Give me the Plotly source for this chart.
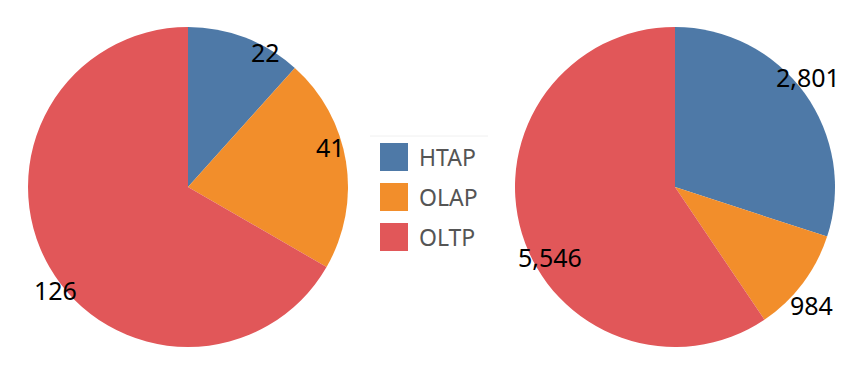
import math
import plotly.graph_objects as go

categories = ["HTAP", "OLAP", "OLTP"]
left_values = [22, 41, 126]
right_values = [2801, 984, 5546]
colors = ["#4e79a7", "#f28e2b", "#e15759"]

W, H = 856, 385
OFF = 8  # page body margin
FONT = "Noto Sans"


def px2x(px):
    return (px - OFF) / W


def py2y(py):
    return 1 - (py - OFF) / H


# pie geometry in page pixels (center x, center y, radius)
pies = [
    dict(values=left_values, cx=188, cy=187, r=160,
         shifts=[(20, -14), (-16, 15), (6, -23)]),
    dict(values=right_values, cx=675, cy=187, r=160,
         shifts=[(4, 16), (9, -22), (28, -23)]),
]

fig = go.Figure()
annotations = []
shapes = []

for p in pies:
    fig.add_trace(go.Pie(
        labels=categories, values=p["values"], sort=False,
        direction="clockwise", rotation=0,
        marker=dict(colors=colors, line=dict(width=0)),
        textinfo="none", hoverinfo="label+value",
        domain=dict(x=[px2x(p["cx"] - p["r"]), px2x(p["cx"] + p["r"])],
                    y=[py2y(p["cy"] + p["r"]), py2y(p["cy"] - p["r"])]),
        showlegend=False,
    ))
    total = sum(p["values"])
    start = 0.0
    for v, (sx, sy) in zip(p["values"], p["shifts"]):
        span = v / total * 360
        mid = math.radians(start + span / 2)
        start += span
        px = p["cx"] + p["r"] * math.sin(mid)
        py = p["cy"] - p["r"] * math.cos(mid)
        annotations.append(dict(
            x=px2x(px), y=py2y(py), xref="paper", yref="paper",
            text=f"{v:,}", showarrow=False, xshift=sx, yshift=sy,
            font=dict(family=FONT, size=25, color="#000000"),
            xanchor="center", yanchor="middle",
        ))

# custom legend
leg_x, leg_y0, sq, gap = 380, 143, 28, 40
shapes.append(dict(type="line", xref="paper", yref="paper",
                   x0=px2x(370), x1=px2x(488), y0=py2y(136), y1=py2y(136),
                   line=dict(color="#f0f0f0", width=1)))
for i, (cat, col) in enumerate(zip(categories, colors)):
    top = leg_y0 + i * gap
    shapes.append(dict(type="rect", xref="paper", yref="paper",
                       x0=px2x(leg_x), x1=px2x(leg_x + sq),
                       y0=py2y(top + sq), y1=py2y(top),
                       fillcolor=col, line=dict(width=0)))
    annotations.append(dict(
        x=px2x(leg_x + sq + 9), y=py2y(top + sq / 2),
        xref="paper", yref="paper", text=cat, showarrow=False,
        xanchor="left", yanchor="middle",
        font=dict(family=FONT, size=23, color="#555555"),
    ))

fig.update_layout(
    width=W, height=H, margin=dict(l=0, r=0, t=0, b=0),
    paper_bgcolor="white", plot_bgcolor="white",
    annotations=annotations, shapes=shapes,
)

fig.write_html("out.html")
